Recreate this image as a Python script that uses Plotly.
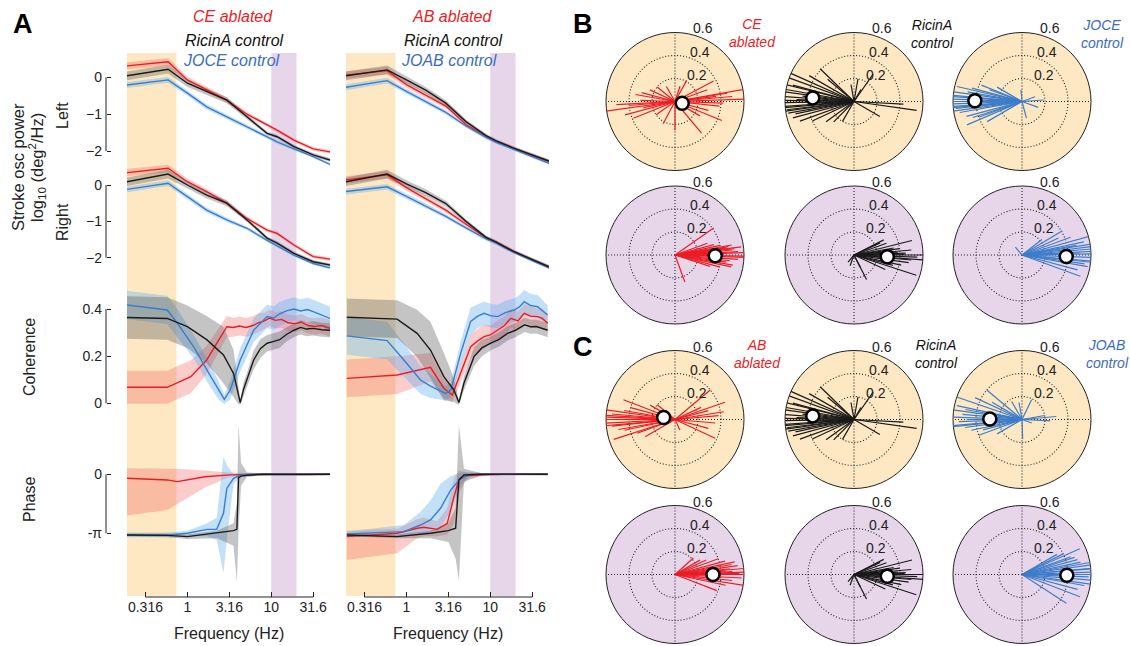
import math
import plotly.graph_objects as go

W, H = 1130, 646
FONT = "Liberation Sans, Arial, sans-serif"

RED, BLACK, BLUE = "#EC1C24", "#1A1A1A", "#3D7CC9"
BLUE_TXT = "#3B6CC2"
RED_BAND = "rgba(242,96,96,0.32)"
BLACK_BAND = "rgba(85,85,85,0.35)"
BLUE_BAND = "rgba(95,175,238,0.38)"
SLOW_BG, FAST_BG = "#FDE8C3", "#E7D6EA"

# ---------------- Panel A data (x values are log10 of frequency in Hz) ----------------
FREQ_TICKS = [0.316, 1, 3.16, 10, 31.6]
FREQ_TICK_TEXT = ["0.316", "1", "3.16", "10", "31.6"]
SLOW_BAND_HZ = [0.19, 0.74]
FAST_BAND_HZ = [10, 20]

POW_LOGF = [-0.72, -0.23, 0.0, 0.23, 0.47, 0.71, 0.95, 1.07, 1.27, 1.5, 1.7]

ce_powL_abl = [0.31, 0.42, -0.07, -0.34, -0.62, -1.0, -1.29, -1.43, -1.70, -1.94, -2.02]
ce_powL_ric = [0.04, 0.22, -0.16, -0.39, -0.62, -1.07, -1.52, -1.61, -1.88, -2.10, -2.24]
ce_powL_jo = [-0.21, -0.07, -0.43, -0.80, -1.07, -1.34, -1.61, -1.75, -1.94, -2.15, -2.36]
ce_powR_abl = [0.34, 0.46, 0.09, -0.18, -0.50, -0.92, -1.24, -1.33, -1.65, -1.97, -2.04]
ce_powR_ric = [0.09, 0.30, 0.0, -0.28, -0.50, -0.96, -1.46, -1.60, -1.88, -2.11, -2.20]
ce_powR_jo = [-0.12, 0.05, -0.32, -0.69, -0.96, -1.19, -1.52, -1.68, -1.93, -2.16, -2.28]

ab_powL_abl = [0.06, 0.18, -0.20, -0.48, -0.78, -1.28, -1.61, -1.74, -1.92, -2.12, -2.28]
ab_powL_ric = [0.04, 0.20, -0.07, -0.35, -0.70, -1.20, -1.58, -1.72, -1.91, -2.10, -2.27]
ab_powL_jo = [-0.27, -0.09, -0.38, -0.65, -0.95, -1.32, -1.63, -1.76, -1.95, -2.15, -2.33]
ab_powR_abl = [0.14, 0.28, -0.07, -0.37, -0.69, -1.08, -1.45, -1.57, -1.82, -2.06, -2.25]
ab_powR_ric = [0.09, 0.30, 0.03, -0.21, -0.51, -1.00, -1.44, -1.57, -1.82, -2.06, -2.25]
ab_powR_jo = [-0.18, -0.05, -0.31, -0.57, -0.86, -1.18, -1.48, -1.60, -1.84, -2.08, -2.28]

pow_err_abl = [0.10, 0.10, 0.09, 0.08, 0.07, 0.06, 0.05, 0.05, 0.05, 0.05, 0.05]
pow_err_ric = [0.12, 0.12, 0.10, 0.09, 0.08, 0.06, 0.05, 0.05, 0.05, 0.05, 0.05]
pow_err_jo = [0.08, 0.08, 0.07, 0.07, 0.06, 0.05, 0.05, 0.05, 0.04, 0.04, 0.04]

# coherence, CE column
ce_coh_abl_f = [-0.72, -0.24, 0.04, 0.23, 0.47, 0.55, 0.62, 0.70, 0.78, 0.85, 0.92, 0.98, 1.05, 1.12, 1.2, 1.28, 1.36, 1.44, 1.52, 1.6, 1.7]
ce_coh_abl = [0.068, 0.068, 0.113, 0.184, 0.325, 0.322, 0.328, 0.322, 0.33, 0.342, 0.35, 0.362, 0.352, 0.356, 0.342, 0.338, 0.344, 0.33, 0.326, 0.33, 0.318]
ce_coh_abl_err = [0.07, 0.07, 0.07, 0.06, 0.045, 0.04, 0.04, 0.04, 0.04, 0.04, 0.035, 0.035, 0.035, 0.035, 0.035, 0.035, 0.035, 0.035, 0.035, 0.035, 0.035]
ce_coh_ric_f = [-0.72, -0.24, 0.0, 0.234, 0.43, 0.55, 0.6, 0.63, 0.67, 0.71, 0.79, 0.87, 0.95, 1.02, 1.1, 1.18, 1.27, 1.35, 1.42, 1.5, 1.6, 1.7]
ce_coh_ric = [0.364, 0.36, 0.325, 0.269, 0.205, 0.127, 0.05, 0.003, 0.06, 0.099, 0.184, 0.232, 0.255, 0.262, 0.27, 0.292, 0.31, 0.322, 0.315, 0.318, 0.312, 0.31]
ce_coh_ric_err = [0.09, 0.09, 0.09, 0.10, 0.12, 0.10, 0.05, 0.01, 0.03, 0.03, 0.04, 0.04, 0.035, 0.035, 0.035, 0.03, 0.03, 0.03, 0.03, 0.03, 0.03, 0.03]
ce_coh_jo_f = [-0.72, -0.24, -0.12, 0.075, 0.234, 0.37, 0.44, 0.51, 0.63, 0.79, 0.87, 0.95, 1.03, 1.1, 1.18, 1.27, 1.35, 1.43, 1.5, 1.6, 1.7]
ce_coh_jo = [0.417, 0.396, 0.34, 0.24, 0.141, 0.056, 0.017, 0.056, 0.184, 0.31, 0.34, 0.368, 0.362, 0.38, 0.392, 0.40, 0.392, 0.398, 0.389, 0.375, 0.36]
ce_coh_jo_err = [0.06, 0.06, 0.06, 0.05, 0.05, 0.04, 0.02, 0.04, 0.05, 0.05, 0.05, 0.05, 0.05, 0.05, 0.05, 0.05, 0.05, 0.05, 0.05, 0.05, 0.05]

# coherence, AB column
ab_coh_abl_f = [-0.71, -0.11, 0.287, 0.447, 0.547, 0.647, 0.766, 0.85, 0.926, 1.0, 1.086, 1.17, 1.245, 1.33, 1.405, 1.48, 1.565, 1.62, 1.685]
ab_coh_abl = [0.106, 0.12, 0.153, 0.064, 0.035, 0.127, 0.24, 0.265, 0.283, 0.29, 0.31, 0.33, 0.361, 0.35, 0.382, 0.37, 0.368, 0.36, 0.34]
ab_coh_abl_err = [0.08, 0.08, 0.06, 0.04, 0.03, 0.04, 0.05, 0.05, 0.05, 0.04, 0.04, 0.04, 0.04, 0.04, 0.04, 0.04, 0.04, 0.04, 0.03]
ab_coh_ric_f = [-0.71, -0.11, 0.128, 0.287, 0.447, 0.567, 0.626, 0.686, 0.806, 0.9, 1.006, 1.1, 1.206, 1.3, 1.41, 1.48, 1.55, 1.62, 1.685]
ab_coh_ric = [0.365, 0.357, 0.297, 0.226, 0.113, 0.056, 0.003, 0.085, 0.198, 0.235, 0.255, 0.27, 0.297, 0.31, 0.333, 0.325, 0.326, 0.318, 0.31]
ab_coh_ric_err = [0.08, 0.08, 0.10, 0.12, 0.10, 0.05, 0.01, 0.03, 0.04, 0.035, 0.03, 0.03, 0.03, 0.03, 0.03, 0.03, 0.03, 0.03, 0.03]
ab_coh_jo_f = [-0.71, -0.23, -0.03, 0.168, 0.287, 0.467, 0.53, 0.647, 0.766, 0.85, 0.926, 1.0, 1.086, 1.18, 1.285, 1.35, 1.405, 1.48, 1.565, 1.685]
ab_coh_jo = [0.286, 0.266, 0.184, 0.099, 0.073, 0.042, 0.056, 0.212, 0.347, 0.37, 0.382, 0.372, 0.368, 0.385, 0.396, 0.41, 0.431, 0.415, 0.41, 0.375]
ab_coh_jo_err = [0.08, 0.08, 0.07, 0.06, 0.05, 0.03, 0.03, 0.05, 0.06, 0.05, 0.05, 0.05, 0.05, 0.05, 0.05, 0.05, 0.05, 0.05, 0.05, 0.04]

# phase, CE column (radians)
ce_ph_abl_f = [-0.72, -0.24, -0.12, 0.21, 0.5, 0.8, 1.1, 1.4, 1.7]
ce_ph_abl = [-0.21, -0.30, -0.39, -0.13, -0.03, 0.0, 0.01, 0.02, 0.0]
ce_ph_abl_hi = [0.32, 0.32, 0.30, 0.20, 0.10, 0.05, 0.06, 0.07, 0.05]
ce_ph_abl_lo = [-2.2, -1.9, -1.6, -0.7, -0.15, -0.05, -0.04, -0.03, -0.05]
ce_ph_ric_f = [-0.72, -0.24, 0.0, 0.35, 0.55, 0.59, 0.61, 0.64, 0.71, 0.9, 1.1, 1.4, 1.7]
ce_ph_ric = [-3.23, -3.25, -3.32, -3.14, -3.0, -2.93, -0.18, -0.10, -0.05, 0.0, 0.01, -0.01, 0.0]
ce_ph_ric_hi = [-3.15, -3.15, -3.2, -3.0, -2.6, -1.5, 2.62, 0.6, 0.1, 0.05, 0.05, 0.05, 0.05]
ce_ph_ric_lo = [-3.3, -3.35, -3.45, -3.4, -3.8, -5.72, -3.0, -0.6, -0.15, -0.05, -0.04, -0.05, -0.05]
ce_ph_jo_f = [-0.72, -0.24, 0.0, 0.234, 0.35, 0.43, 0.47, 0.55, 0.63, 0.8, 1.1, 1.4, 1.7]
ce_ph_jo = [-3.23, -3.23, -3.14, -2.93, -2.93, -2.08, -0.75, -0.21, -0.05, 0.0, 0.01, 0.02, 0.0]
ce_ph_jo_hi = [-3.1, -3.1, -3.0, -2.6, -2.3, 0.94, 0.5, 0.0, 0.05, 0.05, 0.05, 0.05, 0.05]
ce_ph_jo_lo = [-3.35, -3.35, -3.3, -3.3, -3.5, -5.26, -3.5, -0.5, -0.15, -0.05, -0.04, -0.04, -0.05]

# phase, AB column (radians)
ab_ph_abl_f = [-0.71, -0.11, 0.128, 0.208, 0.367, 0.487, 0.567, 0.626, 0.726, 1.0, 1.3, 1.685]
ab_ph_abl = [-3.32, -3.14, -2.87, -2.82, -2.93, -2.61, -1.19, -0.30, -0.05, 0.0, 0.02, 0.0]
ab_ph_abl_hi = [-3.0, -2.9, -2.4, -2.3, -2.5, -1.8, -0.2, 0.2, 0.1, 0.06, 0.06, 0.05]
ab_ph_abl_lo = [-4.56, -4.2, -3.4, -3.3, -3.3, -3.2, -2.6, -1.0, -0.2, -0.06, -0.04, -0.05]
ab_ph_ric_f = [-0.71, -0.11, 0.287, 0.5, 0.587, 0.626, 0.686, 0.9, 1.2, 1.5, 1.685]
ab_ph_ric = [-3.23, -3.32, -3.14, -3.0, -2.87, -0.30, -0.04, 0.0, 0.01, 0.0, 0.0]
ab_ph_ric_hi = [-3.15, -3.2, -3.0, -2.6, -1.8, 2.62, 0.3, 0.05, 0.05, 0.05, 0.05]
ab_ph_ric_lo = [-3.3, -3.4, -3.4, -3.6, -4.5, -5.63, -0.4, -0.05, -0.05, -0.05, -0.05]
ab_ph_jo_f = [-0.71, -0.03, 0.168, 0.287, 0.407, 0.527, 0.647, 0.766, 1.0, 1.3, 1.685]
ab_ph_jo = [-3.18, -3.05, -2.70, -2.43, -1.81, -0.84, -0.21, 0.0, 0.01, 0.0, 0.0]
ab_ph_jo_hi = [-3.05, -2.7, -2.0, -1.4, -0.5, -0.1, 0.1, 0.1, 0.05, 0.05, 0.05]
ab_ph_jo_lo = [-3.3, -3.3, -3.2, -3.1, -2.8, -2.0, -0.6, -0.1, -0.05, -0.05, -0.05]

# ---------------- Panels B/C data: (angle deg, coherence length) per fly ----------------
ce_slow_ang = [10, 2, 188, 183, 28, 338, 310, 202, 141, 61, 270, 242, 354, 9, 178, 155, 358, 191, 72, 7, 20, 195, 170, 345, 330, 215, 120, 185, 165, 5]
ce_slow_len = [0.65, 0.61, 0.68, 0.51, 0.38, 0.44, 0.36, 0.39, 0.20, 0.21, 0.25, 0.22, 0.39, 0.46, 0.30, 0.24, 0.42, 0.28, 0.14, 0.36, 0.30, 0.45, 0.35, 0.30, 0.25, 0.20, 0.15, 0.40, 0.30, 0.50]
ce_slow_mean = [0.065, 346]

ric_slow_ang = [176, 184, 156, 166, 136, 216, 55, 357, 352, 330, 187, 190, 179, 172, 181, 195, 200, 170, 160, 150, 205, 185, 178, 174, 182, 188, 192, 165, 140, 225, 240, 100, 80, 60]
ric_slow_len = [0.85, 0.73, 0.72, 0.78, 0.41, 0.30, 0.29, 0.43, 0.55, 0.26, 0.59, 0.58, 0.73, 0.70, 0.65, 0.55, 0.50, 0.60, 0.62, 0.45, 0.40, 0.68, 0.50, 0.45, 0.38, 0.60, 0.52, 0.55, 0.30, 0.25, 0.20, 0.15, 0.20, 0.12]
ric_slow_mean = [0.36, 175]

joce_slow_ang = [180, 188, 203, 167, 158, 4, 285, 95, 175, 182, 185, 172, 190, 195, 178, 170, 165, 198, 184, 176, 200, 160, 210, 186, 150, 20, 340]
joce_slow_len = [0.77, 0.68, 0.52, 0.58, 0.38, 0.19, 0.15, 0.10, 0.70, 0.72, 0.65, 0.60, 0.55, 0.50, 0.62, 0.48, 0.45, 0.45, 0.74, 0.66, 0.40, 0.30, 0.35, 0.58, 0.25, 0.12, 0.15]
joce_slow_mean = [0.41, 179]

ce_fast_ang = [35, 359, 7, 350, 290, 342, 3, 5, 8, 2, 356, 354, 10, 12, 1, 4, 358, 352, 15, 20, 6, 348, 345, 9]
ce_fast_len = [0.41, 0.65, 0.58, 0.51, 0.25, 0.32, 0.55, 0.50, 0.45, 0.60, 0.55, 0.48, 0.50, 0.40, 0.42, 0.38, 0.60, 0.45, 0.35, 0.30, 0.52, 0.50, 0.40, 0.47]
ce_fast_mean = [0.35, 359]

ric_fast_ang = [14, 356, 342, 27, 297, 297, 250, 230, 5, 2, 358, 8, 10, 352, 348, 20, 0, 3, 355, 345, 335, 25, 6, 1]
ric_fast_len = [0.52, 0.63, 0.57, 0.29, 0.24, 0.12, 0.10, 0.08, 0.50, 0.45, 0.55, 0.40, 0.35, 0.48, 0.42, 0.30, 0.60, 0.38, 0.50, 0.35, 0.30, 0.25, 0.33, 0.44]
ric_fast_mean = [0.29, 357]

joce_fast_ang = [15.5, 3, 340, 31, 38, 130, 354, 1, 9, 5, 12, 358, 350, 345, 20, 7, 2, 355, 25, 352, 10]
joce_fast_len = [0.89, 0.77, 0.54, 0.41, 0.22, 0.09, 0.64, 0.64, 0.75, 0.60, 0.55, 0.70, 0.58, 0.50, 0.45, 0.66, 0.50, 0.62, 0.35, 0.55, 0.48]
joce_fast_mean = [0.385, 358]

ab_slow_ang = [176.5, 183, 198, 159, 40, 19, 9, 335, 295, 172, 180, 186, 190, 170, 165, 178, 192, 200, 150, 5, 355, 15, 345, 185, 175, 210, 140, 25]
ab_slow_len = [0.75, 0.65, 0.56, 0.48, 0.40, 0.46, 0.43, 0.385, 0.10, 0.70, 0.60, 0.55, 0.50, 0.45, 0.40, 0.68, 0.45, 0.35, 0.25, 0.38, 0.35, 0.30, 0.30, 0.62, 0.55, 0.30, 0.20, 0.25]
ab_slow_mean = [0.10, 170]

joab_slow_ang = [172, 185, 161, 140, 357, 64, 272, 340, 178, 182, 188, 175, 168, 192, 200, 195, 155, 150, 210, 170, 186, 180, 120, 100, 10, 5]
joab_slow_len = [0.66, 0.67, 0.62, 0.40, 0.245, 0.19, 0.17, 0.09, 0.60, 0.55, 0.50, 0.52, 0.58, 0.45, 0.40, 0.35, 0.45, 0.30, 0.25, 0.50, 0.60, 0.48, 0.18, 0.15, 0.20, 0.30]
joab_slow_mean = [0.28, 179]

ab_fast_ang = [351, 0, 12, 42, 339, 5, 8, 3, 357, 354, 15, 20, 2, 6, 10, 348, 1, 4, 359, 25, 30]
ab_fast_len = [0.675, 0.65, 0.53, 0.215, 0.39, 0.60, 0.55, 0.50, 0.58, 0.50, 0.45, 0.40, 0.62, 0.48, 0.50, 0.45, 0.56, 0.44, 0.40, 0.30, 0.25]
ab_fast_mean = [0.33, 0]

joab_fast_ang = [4.7, 355.4, 24, 339, 26.6, 327, 10, 15, 0, 5, 350, 345, 20, 2, 358, 8, 30, 352, 12, 18]
joab_fast_len = [0.77, 0.83, 0.55, 0.54, 0.40, 0.46, 0.60, 0.50, 0.65, 0.70, 0.55, 0.50, 0.45, 0.62, 0.58, 0.66, 0.35, 0.60, 0.52, 0.48]
joab_fast_mean = [0.39, 359]

RADIAL_TICKS = [0.2, 0.4, 0.6]
RADIAL_MAX = 0.6

# ---------------- helpers (page pixel -> paper) ----------------
def xp(p):
    return p / W


def yp(p):
    return 1 - p / H


fig = go.Figure()


def band(xs, lo, hi, color, xa, ya):
    fig.add_trace(go.Scatter(x=list(xs) + list(xs)[::-1], y=list(hi) + list(lo)[::-1],
                             fill="toself", fillcolor=color, line=dict(width=0), mode="lines",
                             hoverinfo="skip", showlegend=False, xaxis=xa, yaxis=ya))


def line(xs, ys, color, xa, ya):
    fig.add_trace(go.Scatter(x=xs, y=ys, mode="lines", line=dict(color=color, width=1.4),
                             hoverinfo="skip", showlegend=False, xaxis=xa, yaxis=ya))


def sym(vals, errs, sign):
    return [v + sign * e for v, e in zip(vals, errs)]


columns = [
    dict(xa="x", ys=["y", "y2", "y3", "y4"],
         powL=[ce_powL_abl, ce_powL_ric, ce_powL_jo], powR=[ce_powR_abl, ce_powR_ric, ce_powR_jo],
         coh=[(ce_coh_abl_f, ce_coh_abl, ce_coh_abl_err), (ce_coh_ric_f, ce_coh_ric, ce_coh_ric_err), (ce_coh_jo_f, ce_coh_jo, ce_coh_jo_err)],
         ph=[(ce_ph_abl_f, ce_ph_abl, ce_ph_abl_lo, ce_ph_abl_hi), (ce_ph_ric_f, ce_ph_ric, ce_ph_ric_lo, ce_ph_ric_hi), (ce_ph_jo_f, ce_ph_jo, ce_ph_jo_lo, ce_ph_jo_hi)]),
    dict(xa="x2", ys=["y5", "y6", "y7", "y8"],
         powL=[ab_powL_abl, ab_powL_ric, ab_powL_jo], powR=[ab_powR_abl, ab_powR_ric, ab_powR_jo],
         coh=[(ab_coh_abl_f, ab_coh_abl, ab_coh_abl_err), (ab_coh_ric_f, ab_coh_ric, ab_coh_ric_err), (ab_coh_jo_f, ab_coh_jo, ab_coh_jo_err)],
         ph=[(ab_ph_abl_f, ab_ph_abl, ab_ph_abl_lo, ab_ph_abl_hi), (ab_ph_ric_f, ab_ph_ric, ab_ph_ric_lo, ab_ph_ric_hi), (ab_ph_jo_f, ab_ph_jo, ab_ph_jo_lo, ab_ph_jo_hi)]),
]
COLS = [RED, BLACK, BLUE]
BANDS = [RED_BAND, BLACK_BAND, BLUE_BAND]
POW_ERR = [pow_err_abl, pow_err_ric, pow_err_jo]
ORDER = [0, 2, 1]

for col in columns:
    xa = col["xa"]
    for key, ya in (("powL", col["ys"][0]), ("powR", col["ys"][1])):
        for i in ORDER:
            band(POW_LOGF, sym(col[key][i], POW_ERR[i], -1), sym(col[key][i], POW_ERR[i], 1), BANDS[i], xa, ya)
        for i in ORDER:
            line(POW_LOGF, col[key][i], COLS[i], xa, ya)
    for i in ORDER:
        f, v, e = col["coh"][i]
        band(f, sym(v, e, -1), sym(v, e, 1), BANDS[i], xa, col["ys"][2])
    for i in ORDER:
        f, v, e = col["coh"][i]
        line(f, v, COLS[i], xa, col["ys"][2])
    for i in ORDER:
        f, v, lo, hi = col["ph"][i]
        band(f, lo, hi, BANDS[i], xa, col["ys"][3])
    for i in ORDER:
        f, v, lo, hi = col["ph"][i]
        line(f, v, COLS[i], xa, col["ys"][3])

# ---------------- Panel A axes ----------------
XRANGE = [-0.72, 1.70]
AX_FONT = dict(family=FONT, size=14, color="#222")
tickv = [math.log10(v) for v in FREQ_TICKS]
layout = dict(
    width=W, height=H, margin=dict(l=0, r=0, t=0, b=0),
    paper_bgcolor="white", plot_bgcolor="rgba(0,0,0,0)", showlegend=False,
    font=dict(family=FONT, color="#222"),
)
for name, dom in (("xaxis", [127, 330]), ("xaxis2", [346, 549])):
    layout[name] = dict(domain=[xp(dom[0]), xp(dom[1])], range=XRANGE, anchor="free", position=yp(597),
                        tickvals=tickv, ticktext=FREQ_TICK_TEXT, ticks="inside", ticklen=5,
                        tickcolor="#222", showline=False, showgrid=False, zeroline=False,
                        tickfont=AX_FONT, fixedrange=True)

YSPEC = [
    ([172, 50], [-2.566, 0.74], [0, -1, -2], ["0", "\u22121", "\u22122"]),
    ([280, 160], [-2.613, 0.688], [0, -1, -2], ["0", "\u22121", "\u22122"]),
    ([415, 285], [-0.0496, 0.502], [0, 0.2, 0.4], ["0", "0.2", "0.4"]),
    ([592, 420], [-6.267, 2.891], [0, -math.pi], ["0", "-\u03c0"]),
]
for k, (dom, rng, tv, tt) in enumerate(YSPEC):
    nm = "yaxis" if k == 0 else f"yaxis{k + 1}"
    layout[nm] = dict(domain=[yp(dom[0]), yp(dom[1])], range=rng, anchor="free", position=xp(106),
                      tickvals=tv, ticktext=tt, ticks="inside", ticklen=4, tickcolor="#222",
                      showline=False, showgrid=False, zeroline=False, tickfont=AX_FONT,
                      ticklabelstandoff=4, fixedrange=True)
    layout[f"yaxis{k + 5}"] = dict(domain=[yp(dom[0]), yp(dom[1])], range=rng, anchor="x2",
                                   visible=False, fixedrange=True)

shapes = []
for xa in ("x", "x2"):
    for b, colr in ((SLOW_BAND_HZ, SLOW_BG), (FAST_BAND_HZ, FAST_BG)):
        shapes.append(dict(type="rect", xref=xa, yref="paper", x0=math.log10(b[0]), x1=math.log10(b[1]),
                           y0=yp(596), y1=yp(53), fillcolor=colr, line=dict(width=0), layer="below"))
    shapes.append(dict(type="line", xref=xa, yref="paper", x0=tickv[0], x1=tickv[-1], y0=yp(597), y1=yp(597),
                       line=dict(color="#222", width=1)))
for k, (dom, rng, tv, tt) in enumerate(YSPEC):
    yr = "y" if k == 0 else f"y{k + 1}"
    shapes.append(dict(type="line", xref="paper", yref=yr, x0=xp(106), x1=xp(106), y0=min(tv), y1=max(tv),
                       line=dict(color="#222", width=1)))

annotations = []


def ann(text, px, py, size=16, color="#222", angle=0, xanchor="center", **kw):
    annotations.append(dict(text=text, x=xp(px), y=yp(py), xref="paper", yref="paper", showarrow=False,
                            xanchor=xanchor, yanchor="middle", textangle=angle,
                            font=dict(family=FONT, size=size, color=color), **kw))


ann("<b>A</b>", 23, 24, size=27, color="black")
ann("<b>B</b>", 583, 24, size=27, color="black")
ann("<b>C</b>", 583, 347, size=27, color="black")

ann("<i>CE ablated</i>", 233, 17, color=RED)
ann("<i>RicinA control</i>", 234, 40, color="#111")
ann("<i>JOCE control</i>", 231, 61, color=BLUE_TXT)
ann("<i>AB ablated</i>", 452, 17, color=RED)
ann("<i>RicinA control</i>", 453, 40, color="#111")
ann("<i>JOAB control</i>", 449, 61, color=BLUE_TXT)

ann("Stroke osc power", 18, 167, size=16.5, angle=-90)
ann("log<sub>10</sub> (deg<sup>2</sup>/Hz)", 37, 168, size=16.5, angle=-90)
ann("Left", 63, 116, angle=-90)
ann("Right", 63, 222, angle=-90)
ann("Coherence", 29, 357, angle=-90)
ann("Phase", 29, 500, angle=-90)
ann("Frequency (Hz)", 229, 633)
ann("Frequency (Hz)", 448, 633)

# ---------------- Panels B / C polar plots ----------------
POLAR_CX = [675, 854, 1022]
POLAR_CY = [101.5, 255, 419.5, 574.5]
POLAR_R = 69
DOTS = "1px,2px"
RLABEL_DX = [10, 13, 16]     # left edge of radial labels, px right of the centre
RLABEL_DY = 4                # px above the ring top

polar_sets = [
    [(ce_slow_ang, ce_slow_len, ce_slow_mean, RED), (ric_slow_ang, ric_slow_len, ric_slow_mean, BLACK), (joce_slow_ang, joce_slow_len, joce_slow_mean, BLUE)],
    [(ce_fast_ang, ce_fast_len, ce_fast_mean, RED), (ric_fast_ang, ric_fast_len, ric_fast_mean, BLACK), (joce_fast_ang, joce_fast_len, joce_fast_mean, BLUE)],
    [(ab_slow_ang, ab_slow_len, ab_slow_mean, RED), (ric_slow_ang, ric_slow_len, ric_slow_mean, BLACK), (joab_slow_ang, joab_slow_len, joab_slow_mean, BLUE)],
    [(ab_fast_ang, ab_fast_len, ab_fast_mean, RED), (ric_fast_ang, ric_fast_len, ric_fast_mean, BLACK), (joab_fast_ang, joab_fast_len, joab_fast_mean, BLUE)],
]
ROW_BG = [SLOW_BG, FAST_BG, SLOW_BG, FAST_BG]

n = 0
for r, row in enumerate(polar_sets):
    for c, (angs, lens, mean, colr) in enumerate(row):
        n += 1
        pid = "polar" if n == 1 else f"polar{n}"
        cx, cy = POLAR_CX[c], POLAR_CY[r]
        layout[pid] = dict(
            domain=dict(x=[xp(cx - POLAR_R), xp(cx + POLAR_R)], y=[yp(cy + POLAR_R), yp(cy - POLAR_R)]),
            bgcolor=ROW_BG[r],
            radialaxis=dict(range=[0, RADIAL_MAX], tickvals=RADIAL_TICKS[:-1], showticklabels=False, ticks="",
                            showline=False, showgrid=True, gridcolor="#222", griddash=DOTS, gridwidth=1.1,
                            layer="below traces"),
            angularaxis=dict(tick0=0, dtick=90, showticklabels=False, ticks="", showgrid=True,
                             gridcolor="#222", griddash=DOTS, gridwidth=1.1, showline=True,
                             linecolor="#222", linewidth=1, rotation=0, direction="counterclockwise",
                             layer="below traces"),
        )
        rr, tt = [], []
        for a, l in zip(angs, lens):
            rr += [0, l, None]
            tt += [a, a, None]
        fig.add_trace(go.Scatterpolar(r=rr, theta=tt, mode="lines", line=dict(color=colr, width=1.2),
                                      subplot=pid, cliponaxis=False, hoverinfo="skip", showlegend=False))
        fig.add_trace(go.Scatterpolar(r=[mean[0]], theta=[mean[1]], mode="markers",
                                      marker=dict(size=13, color="white", line=dict(color="black", width=2.5)),
                                      subplot=pid, cliponaxis=False, hoverinfo="skip", showlegend=False))
        for v, dx in zip(RADIAL_TICKS, RLABEL_DX):
            ring_px = v / RADIAL_MAX * POLAR_R
            ann(f"{v:.1f}", cx + dx, cy - ring_px - RLABEL_DY, size=14, xanchor="left")

ann("<i>CE<br>ablated</i>", 752, 33, size=14, color=RED)
ann("<i>RicinA<br>control</i>", 932, 34, size=14, color="#111")
ann("<i>JOCE<br>control</i>", 1102, 34, size=14, color=BLUE_TXT)
ann("<i>AB<br>ablated</i>", 757, 354, size=14, color=RED)
ann("<i>RicinA<br>control</i>", 936, 354, size=14, color="#111")
ann("<i>JOAB<br>control</i>", 1107, 354, size=14, color=BLUE_TXT)

layout["shapes"] = shapes
layout["annotations"] = annotations
fig.update_layout(**layout)
fig.write_html("out.html", config={"displayModeBar": False, "staticPlot": True},
               post_script="document.body.style.margin='0';document.body.style.overflow='hidden';")
